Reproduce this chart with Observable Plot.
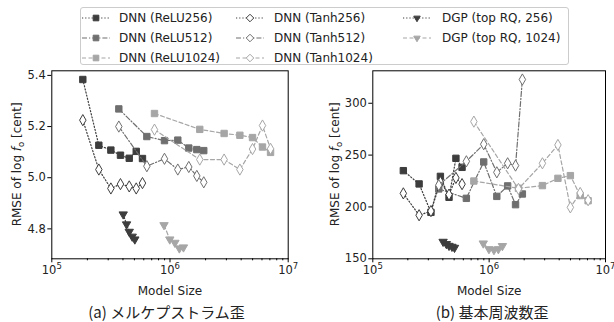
<!DOCTYPE html>
<html><head><meta charset="utf-8">
<script src="https://cdn.jsdelivr.net/npm/d3@7"></script>
<script src="https://cdn.jsdelivr.net/npm/@observablehq/plot@0.6"></script>
<style>
body{margin:0;background:#fff;}
#root{position:relative;width:614px;height:322px;font-family:"DejaVu Sans",sans-serif;overflow:hidden;}
#root > svg{position:absolute;top:0;}
#legend{position:absolute;left:80px;top:7px;width:489px;height:58px;border:1px solid #cccccc;border-radius:3px;background:rgba(255,255,255,0.8);box-sizing:border-box;}
#legend .item{position:absolute;height:16px;display:flex;align-items:center;font-size:12px;color:#222;white-space:nowrap;}
</style></head><body><div id="root"></div>
<script>
// ---- data (model sizes) ----
const x256   = [1.83e5, 2.50e5, 3.16e5, 3.81e5, 4.52e5, 5.18e5, 5.85e5];
const x512   = [3.69e5, 6.37e5, 8.98e5, 1.164e6, 1.442e6, 1.686e6, 1.93e6];
const x1024  = [7.39e5, 1.786e6, 2.87e6, 3.90e6, 4.99e6, 6.06e6, 7.09e6];
const xDGP256  = [4.02e5, 4.29e5, 4.52e5, 4.79e5, 5.04e5];
const xDGP1024 = [8.9e5, 9.96e5, 1.10e6, 1.20e6, 1.30e6];

// ---- (a) mel-cepstral distortion ----
const mcdReLU256  = [5.384, 5.127, 5.108, 5.088, 5.076, 5.103, 5.075];
const mcdReLU512  = [5.269, 5.161, 5.145, 5.147, 5.116, 5.110, 5.106];
const mcdReLU1024 = [5.251, 5.189, 5.173, 5.166, 5.157, 5.120, 5.099];
const mcdTanh256  = [5.225, 5.032, 4.958, 4.975, 4.966, 4.958, 4.979];
const mcdTanh512  = [5.200, 5.045, 5.074, 5.032, 5.042, 5.007, 4.982];
const mcdTanh1024 = [5.188, 5.071, 5.071, 5.032, 5.112, 5.204, 5.113];
const mcdDGP256   = [4.857, 4.818, 4.789, 4.770, 4.759];
const mcdDGP1024  = [4.815, 4.759, 4.746, 4.724, 4.728];

// ---- (b) F0 distortion ----
const f0ReLU256  = [235.0, 222.2, 194.8, 229.5, 209.3, 246.9, 238.2];
const f0ReLU512  = [217.4, 208.3, 243.4, 210.2, 220.3, 202.2, 212.5];
const f0ReLU1024 = [225.0, 218.0, 220.6, 227.6, 230.2, 211.0, 206.0];
const f0Tanh256  = [213.1, 192.0, 196.0, 224.0, 211.9, 228.0, 222.0];
const f0Tanh512  = [221.0, 244.0, 260.5, 233.4, 242.1, 239.9, 322.9];
const f0Tanh1024 = [282.3, 217.4, 242.1, 259.8, 199.6, 213.5, 206.5];
const f0DGP256   = [166.5, 164.3, 162.6, 161.7, 160.7];
const f0DGP1024  = [164.9, 159.4, 158.5, 159.4, 162.4];

const xMajor = [1e5, 1e6, 1e7];
const xMinor = [2e5,3e5,4e5,5e5,6e5,7e5,8e5,9e5,2e6,3e6,4e6,5e6,6e6,7e6,8e6,9e6];
const mcdTicks = [4.8, 5.0, 5.2, 5.4];
const f0Ticks = [150, 200, 250, 300];

// ---- styles ----
const DARK = "#3d3d3d", MID = "#6f6f6f", LIGHT = "#a6a6a6";
const DOT = "1.2,2", DASHDOT = "5,2,1.2,2", DASH = "4,2.5";
const series = [
  {name:"DNN (ReLU256)",  x:x256,  mcd:mcdReLU256,  f0:f0ReLU256,  color:DARK,  dash:DOT,     symbol:"square",  hollow:false, col:0,row:0},
  {name:"DNN (ReLU512)",  x:x512,  mcd:mcdReLU512,  f0:f0ReLU512,  color:MID,   dash:DASHDOT, symbol:"square",  hollow:false, col:0,row:1},
  {name:"DNN (ReLU1024)", x:x1024, mcd:mcdReLU1024, f0:f0ReLU1024, color:LIGHT, dash:DASH,    symbol:"square",  hollow:false, col:0,row:2},
  {name:"DNN (Tanh256)",  x:x256,  mcd:mcdTanh256,  f0:f0Tanh256,  color:DARK,  dash:DOT,     symbol:"diamond", hollow:true,  col:1,row:0},
  {name:"DNN (Tanh512)",  x:x512,  mcd:mcdTanh512,  f0:f0Tanh512,  color:MID,   dash:DASHDOT, symbol:"diamond", hollow:true,  col:1,row:1},
  {name:"DNN (Tanh1024)", x:x1024, mcd:mcdTanh1024, f0:f0Tanh1024, color:LIGHT, dash:DASH,    symbol:"diamond", hollow:true,  col:1,row:2},
  {name:"DGP (top RQ, 256)",  x:xDGP256,  mcd:mcdDGP256,  f0:f0DGP256,  color:DARK,  dash:DOT,  symbol:"triangle", hollow:false, down:true, col:2,row:0},
  {name:"DGP (top RQ, 1024)", x:xDGP1024, mcd:mcdDGP1024, f0:f0DGP1024, color:LIGHT, dash:DASH, symbol:"triangle", hollow:false, down:true, col:2,row:1},
];

const root = document.getElementById("root");
const powFmt = d => "10^" + Math.round(Math.log10(d));

function makePlot(key, yDomain, yTicks, yFmt, left, ml, mr, caption, capDx, ylabX) {
  const W = 307, H = 322, MT = 70.3, MB = 63.7;
  const rows = series.flatMap(s => s.x.map((x, i) => ({series: s.name, x, y: s[key][i]})));
  const marks = [];
  for (const s of series) {
    const data = rows.filter(r => r.series === s.name);
    marks.push(Plot.line(data, {x: "x", y: "y", stroke: s.color, strokeWidth: 1.2, strokeDasharray: s.dash}));
    marks.push(Plot.dot(data, {x: "x", y: "y", symbol: s.symbol, r: s.symbol === "square" ? 3.6 : s.symbol === "diamond" ? 3.4 : 3.1,
      fill: s.hollow ? "white" : s.color, stroke: s.color, strokeWidth: 1, rotate: s.down ? 180 : 0}));
  }
  marks.push(Plot.frame({stroke: "black", strokeWidth: 1}));
  marks.push(Plot.axisX({ticks: xMajor, tickFormat: powFmt, tickSize: 4, tickPadding: 3, label: null, stroke: "black"}));
  marks.push(Plot.axisX({ticks: xMinor, tickFormat: () => "", tickSize: 2, label: null, stroke: "black"}));
  marks.push(Plot.axisY({ticks: yTicks, tickFormat: yFmt, tickSize: 4, tickPadding: 2, label: null, stroke: "black"}));
  marks.push(Plot.text(["Model Size"], {frameAnchor: "bottom", dy: 36, text: d => d, fontSize: 12, fill: "#222"}));
  marks.push(Plot.text([caption], {frameAnchor: "bottom", dy: 59, dx: capDx, text: d => d, fontSize: 15, fill: "#222",
    fontFamily: "'Noto Sans CJK JP', 'DejaVu Sans', sans-serif"}));
  const svg = Plot.plot({
    width: W, height: H, marginTop: MT, marginBottom: MB, marginLeft: ml, marginRight: mr,
    style: {fontFamily: "DejaVu Sans, sans-serif", fontSize: "11.5px", color: "#222", background: "transparent", overflow: "visible"},
    x: {type: "log", domain: [1e5, 1e7]},
    y: {domain: yDomain},
    marks
  });
  svg.style.left = left + "px";
  // render power-of-ten tick labels with a real superscript
  d3.select(svg).selectAll("text").each(function () {
    const el = d3.select(this);
    const m = /^10\^(\d+)$/.exec(el.text());
    if (!m) return;
    el.text("");
    el.append("tspan").text("10");
    el.append("tspan").attr("dy", -5).attr("font-size", 8.5).text(m[1]);
  });
  const cy = MT + (H - MT - MB) / 2;
  const t = d3.select(svg).append("text")
    .attr("transform", `translate(${ylabX + 4},${cy}) rotate(-90)`)
    .attr("text-anchor", "middle").attr("font-size", 12).attr("fill", "#222")
    .attr("font-family", "DejaVu Sans, sans-serif");
  t.append("tspan").text("RMSE of log ");
  t.append("tspan").attr("font-style", "italic").text("f");
  t.append("tspan").attr("font-size", 8.5).attr("dy", 2.5).text("o");
  t.append("tspan").attr("dy", -2.5).text(" [cent]");
  root.appendChild(svg);
}

makePlot("mcd", [4.683, 5.418], mcdTicks, d => d.toFixed(1), 0, 51.3, 19.3, "(a) メルケプストラム歪", -3.5, 17);
makePlot("f0", [150, 331.3], f0Ticks, d => String(d), 307, 65.3, 9, "(b) 基本周波数歪", 3, 28);

// ---- legend ----
const legend = document.createElement("div");
legend.id = "legend";
root.appendChild(legend);
const colSample = [1, 155, 322];
const colText = [38, 193, 361];
for (const s of series) {
  const sw = d3.create("svg").attr("width", 28).attr("height", 12)
    .style("position", "absolute").style("left", colSample[s.col] + "px").style("top", (4 + s.row * 20) + "px");
  sw.append("line").attr("x1", 0).attr("x2", 28).attr("y1", 6).attr("y2", 6)
    .attr("stroke", s.color).attr("stroke-width", 1.2).attr("stroke-dasharray", s.dash);
  const sym = s.symbol === "square" ? d3.symbolSquare2 : s.symbol === "diamond" ? d3.symbolDiamond2 : d3.symbolTriangle2;
  const rr = s.symbol === "square" ? 3.6 : s.symbol === "diamond" ? 3.4 : 3.1;
  sw.append("path").attr("d", d3.symbol(sym, rr * rr * Math.PI)())
    .attr("transform", `translate(14,6)${s.down ? " rotate(180)" : ""}`)
    .attr("fill", s.hollow ? "white" : s.color).attr("stroke", s.color).attr("stroke-width", 1);
  legend.appendChild(sw.node());
  const it = document.createElement("div");
  it.className = "item";
  it.style.left = colText[s.col] + "px";
  it.style.top = (2 + s.row * 20) + "px";
  it.textContent = s.name;
  legend.appendChild(it);
}
</script></body></html>
